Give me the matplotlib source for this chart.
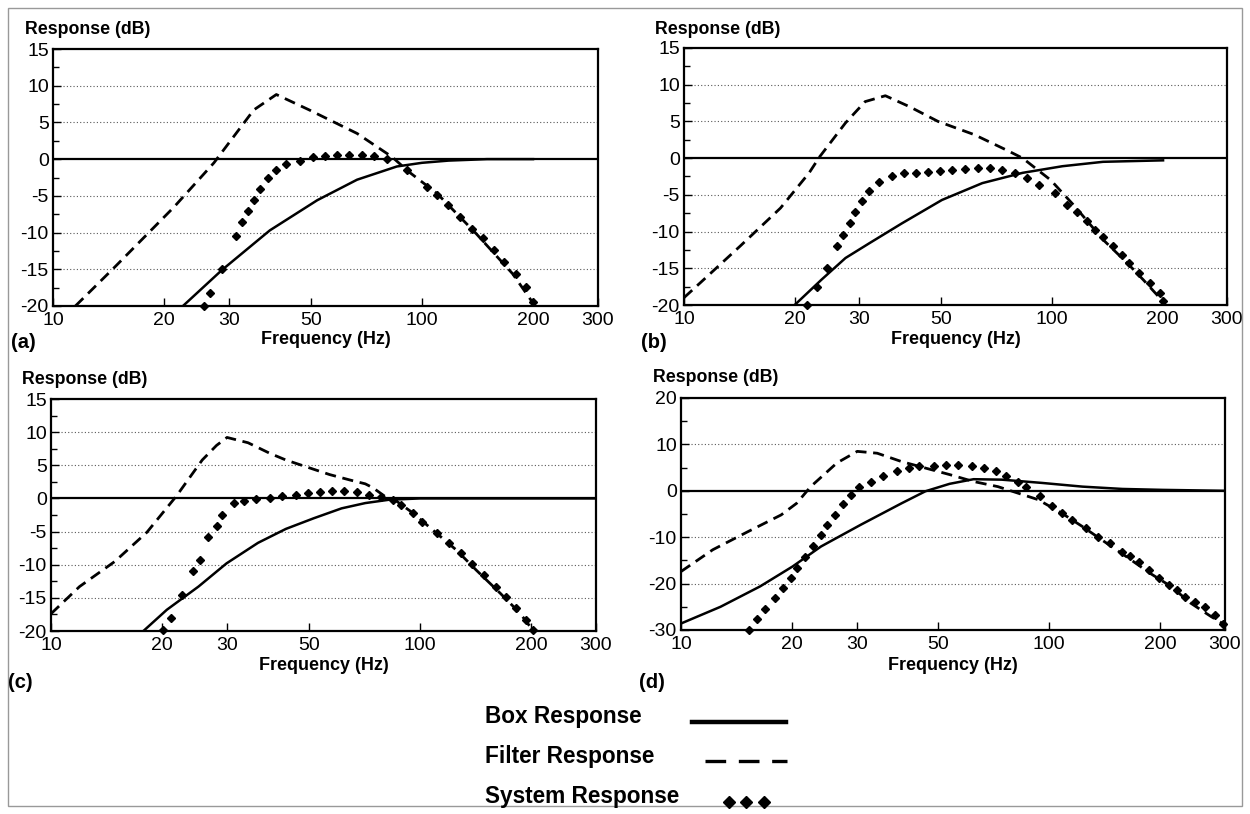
import matplotlib.pyplot as plt
from matplotlib.lines import Line2D
from matplotlib.patches import Rectangle

plt.rcParams['font.family'] = ['Liberation Sans', 'DejaVu Sans']
plt.rcParams['axes.unicode_minus'] = False

# ---- panel (a) ----
a_filter_f = [11.5, 14.7, 21.3, 27.3, 35, 40.3, 49.5, 66.7, 83, 92, 110, 140, 176, 200]
a_filter_db = [-20, -14.7, -6.5, -0.5, 6.7, 8.8, 6.7, 3.5, 0.3, -1.7, -4.7, -10.1, -15.6, -19.6]
a_box_f = [22.5, 28.7, 38.7, 52, 66.7, 85.5, 100, 118, 150, 200]
a_box_db = [-20, -15.1, -9.7, -5.6, -2.8, -1.0, -0.5, -0.2, 0, 0]
a_sys_f = [25.7, 26.6, 28.7, 31.3, 32.5, 33.7, 35.0, 36.3, 38.2, 40.1, 42.7, 46.6,
           50.8, 54.7, 58.9, 63.5, 68.8, 74.1, 80.4, 91, 103, 109.6, 118, 127, 137,
           146, 157, 167, 180, 191.6, 200]
a_sys_db = [-20, -18.2, -15.0, -10.4, -8.6, -7.0, -5.5, -4.1, -2.6, -1.5, -0.7, -0.3,
            0.25, 0.4, 0.5, 0.57, 0.5, 0.4, 0, -1.5, -3.75, -4.9, -6.3, -7.85, -9.45,
            -10.8, -12.4, -14.0, -15.6, -17.4, -19.5]

# ---- panel (b) ----
b_filter_f = [10, 11.06, 14.2, 18.3, 21.9, 23.4, 27.5, 31.1, 35.3, 41.1, 49.1, 61.6,
              75.4, 83.4, 99.5, 115.8, 138, 160.7, 177.8, 201.6]
b_filter_db = [-19, -17.0, -12.0, -6.8, -2.0, 0.2, 4.8, 7.7, 8.5, 7.0, 5.0, 3.2,
               1.1, 0, -3.0, -6.6, -11.1, -14.3, -16.6, -19.6]
b_box_f = [20, 23.6, 27.5, 31.9, 39.1, 50.3, 64.8, 83.4, 107, 138, 201]
b_box_db = [-20, -16.6, -13.6, -11.6, -8.9, -5.7, -3.4, -2.0, -1.1, -0.5, -0.3]
b_sys_f = [21.6, 23.0, 24.5, 26.1, 27.1, 28.2, 29.2, 30.4, 31.9, 34.0, 36.7, 39.6,
           42.7, 46.0, 49.7, 53.6, 58.2, 63.1, 68.1, 73.5, 79.3, 85.5, 92.2, 102, 110,
           117, 125, 131, 138, 147, 155, 162, 173, 185, 197, 201]
b_sys_db = [-20, -17.5, -15.0, -12.0, -10.5, -8.9, -7.3, -5.9, -4.5, -3.2, -2.4, -2.0,
            -2.0, -1.9, -1.7, -1.6, -1.45, -1.4, -1.4, -1.6, -2.0, -2.7, -3.6, -4.8, -6.4,
            -7.3, -8.6, -9.8, -10.7, -12.0, -13.2, -14.3, -15.7, -17.0, -18.4, -19.5]

# ---- panel (c) ----
c_filter_f = [10, 11.95, 14.9, 18.2, 21.9, 25.7, 28.1, 30.0, 34.2, 39.2, 43.3, 49.0,
              56.9, 64.4, 71.1, 74.6, 80.4, 86.6, 95.7, 108, 125.6, 142, 165, 186.6, 203]
c_filter_db = [-17.4, -13.3, -9.5, -5.1, 0.4, 5.8, 8.0, 9.2, 8.4, 6.8, 5.8, 4.8,
               3.6, 2.8, 2.2, 1.6, 0.3, -0.45, -2.2, -4.7, -7.8, -10.8, -14.3, -17.3, -20]
c_box_f = [17.8, 20.6, 25.1, 29.9, 36.4, 43.3, 51.5, 61.3, 71.1, 82.4, 100, 300]
c_box_db = [-20, -16.8, -13.3, -9.8, -6.7, -4.6, -3.0, -1.5, -0.7, -0.2, 0, 0]
c_sys_f = [20.1, 21.1, 22.7, 24.2, 25.4, 26.7, 28.1, 29.1, 31.4, 33.4, 36.0, 39.2,
           42.3, 46.1, 49.6, 53.5, 57.6, 62.4, 67.6, 72.8, 78.5, 84.5, 88.8, 95.7, 101,
           110.9, 119.5, 128.8, 138.7, 149, 160.9, 171, 182, 193.6, 203]
c_sys_db = [-19.8, -18.1, -14.6, -11.0, -9.3, -5.8, -4.1, -2.5, -0.7, -0.35, -0.1, 0.05,
            0.3, 0.55, 0.8, 0.9, 1.05, 1.15, 0.9, 0.55, 0.2, -0.2, -1.0, -2.2, -3.6,
            -5.2, -6.7, -8.3, -9.9, -11.5, -13.3, -14.8, -16.6, -18.3, -19.8]

# ---- panel (d) ----
d_filter_f = [10, 12.2, 15.2, 18.7, 20.6, 22.5, 26.5, 30.1, 34.1, 39.7, 46.1, 53.6,
              62.3, 72.5, 82.2, 93.2, 108, 123, 139, 162, 188, 214, 242, 275, 300]
d_filter_db = [-17.4, -12.7, -8.8, -5.2, -2.7, 0.9, 6.0, 8.5, 8.1, 6.3, 4.9, 3.5,
               2.0, 0.9, -0.5, -1.9, -4.8, -7.7, -10.6, -14.2, -17.8, -20.6, -24.2, -27.1, -28.9]
d_box_f = [10, 12.8, 16.4, 20.1, 24.0, 30.8, 39.7, 46.1, 53.6, 62.3, 74.3, 95.5, 123,
           158, 203, 300]
d_box_db = [-28.6, -25, -20.6, -16.3, -12.0, -7.3, -2.7, -0.1, 1.5, 2.5, 2.4, 1.7, 0.9,
            0.4, 0.2, 0]
d_sys_f = [15.3, 16.1, 16.95, 17.96, 18.9, 19.9, 20.6, 21.7, 22.8, 24.0, 24.9, 26.2,
           27.5, 29.0, 30.4, 32.8, 35.4, 38.7, 41.7, 44.4, 48.5, 52.3, 56.4, 61.5, 66.4,
           71.6, 76.2, 82.2, 86.5, 94.4, 101.8, 108.4, 115.3, 126, 135.8, 146.5, 158,
           166, 174.8, 186, 198, 211, 222, 233, 248, 264.5, 281.6, 296]
d_sys_db = [-29.9, -27.7, -25.5, -23.2, -21.0, -18.7, -16.7, -14.2, -11.9, -9.5, -7.3,
            -5.2, -2.8, -0.9, 0.9, 2.0, 3.1, 4.2, 4.9, 5.25, 5.4, 5.6, 5.6, 5.4, 4.9,
            4.2, 3.1, 2.0, 0.9, -1.2, -3.2, -4.8, -6.3, -8.1, -9.9, -11.3, -13.1, -14.0,
            -15.3, -17.1, -18.9, -20.3, -21.4, -22.8, -23.9, -25.0, -26.8, -28.6]

freq_ticks = [10, 20, 30, 50, 100, 200, 300]
legend_labels = ['Box Response', 'Filter Response', 'System Response']

W, H = 1250, 814


def fx(px):
    return px / W


def fy(py):
    return 1 - py / H


def draw_panel(fig, box, ylim, yticks, yminor, series, tag, ylabel_xy, tag_y, xl_y):
    left, top, right, bottom = box
    ax = fig.add_axes([fx(left), fy(bottom), fx(right - left), (bottom - top) / H])
    (ff, fd), (bf, bd), (sf, sd) = series
    ax.axhline(0, color='black', lw=1.6, zorder=2)
    ax.plot(ff, fd, color='black', lw=2.0, dashes=(4, 2.4), zorder=3)
    ax.plot(bf, bd, color='black', lw=1.8, zorder=3)
    ax.plot(sf, sd, linestyle='none', marker='D', ms=4.3, color='black',
            clip_on=False, zorder=4)
    ax.set_xscale('log')
    ax.set_xlim(10, 300)
    ax.set_ylim(*ylim)
    ax.set_xticks(freq_ticks)
    ax.set_xticklabels([str(t) for t in freq_ticks])
    ax.xaxis.set_minor_locator(plt.NullLocator())
    ax.set_yticks(yticks)
    ax.set_yticklabels([str(t) for t in yticks])
    ax.set_yticks(yminor, minor=True)
    for t in yticks:
        if t != 0 and t != ylim[0] and t != ylim[1]:
            ax.axhline(t, color='0.35', lw=0.8, linestyle=(0, (1, 2)), zorder=1)
    ax.tick_params(axis='both', which='major', direction='in', length=6, width=1,
                   labelsize=14, pad=4)
    ax.tick_params(axis='y', which='minor', direction='in', length=4, width=1)
    ax.tick_params(axis='y', pad=3)
    for s in ax.spines.values():
        s.set_linewidth(1.6)
    fig.text(fx(ylabel_xy[0]), fy(ylabel_xy[1]), 'Response (dB)', fontsize=12.8,
             fontweight='bold', ha='left', va='center')
    fig.text(fx(ylabel_xy[0] - 14), fy(tag_y), tag, fontsize=14.5,
             fontweight='bold', ha='left', va='center')
    fig.text(fx((left + right) / 2), fy(xl_y), 'Frequency (Hz)', fontsize=13,
             fontweight='bold', ha='center', va='center')
    return ax


fig = plt.figure(figsize=(12.5, 8.14), dpi=100)
fig.add_artist(Rectangle((fx(8), fy(806)), fx(1242 - 8), (806 - 8) / H,
                         transform=fig.transFigure, fill=False,
                         edgecolor='0.6', lw=1))

yt = [-20, -15, -10, -5, 0, 5, 10, 15]
ym = [-17.5, -12.5, -7.5, -2.5, 2.5, 7.5, 12.5]
draw_panel(fig, (53, 49, 598, 306), (-20, 15), yt, ym,
           [(a_filter_f, a_filter_db), (a_box_f, a_box_db), (a_sys_f, a_sys_db)],
           '(a)', (25, 29), 342, 340)
draw_panel(fig, (684, 48, 1227, 305), (-20, 15), yt, ym,
           [(b_filter_f, b_filter_db), (b_box_f, b_box_db), (b_sys_f, b_sys_db)],
           '(b)', (655, 29), 342, 340)
draw_panel(fig, (51, 399, 596, 631), (-20, 15), yt, ym,
           [(c_filter_f, c_filter_db), (c_box_f, c_box_db), (c_sys_f, c_sys_db)],
           '(c)', (22, 379), 683, 665)
draw_panel(fig, (681, 398, 1225, 630), (-30, 20), [-30, -20, -10, 0, 10, 20],
           [-25, -15, -5, 5, 15],
           [(d_filter_f, d_filter_db), (d_box_f, d_box_db), (d_sys_f, d_sys_db)],
           '(d)', (653, 378), 683, 665)

# legend at the bottom
leg_y = [717, 757, 797]
for lab, y in zip(legend_labels, leg_y):
    fig.text(fx(485), fy(y), lab, fontsize=16.3, fontweight='bold', ha='left', va='center')
fig.add_artist(Line2D([fx(692), fx(786)], [fy(722), fy(722)], color='black', lw=3.2,
                      transform=fig.transFigure))
fig.add_artist(Line2D([fx(705), fx(787)], [fy(761), fy(761)], color='black', lw=2.4,
                      dashes=(6.2, 3.8), transform=fig.transFigure))
fig.add_artist(Line2D([fx(729), fx(746), fx(764)], [fy(802)] * 3, color='black',
                      linestyle='none', marker='D', ms=6, transform=fig.transFigure))

fig.savefig('out.png', dpi=100)
